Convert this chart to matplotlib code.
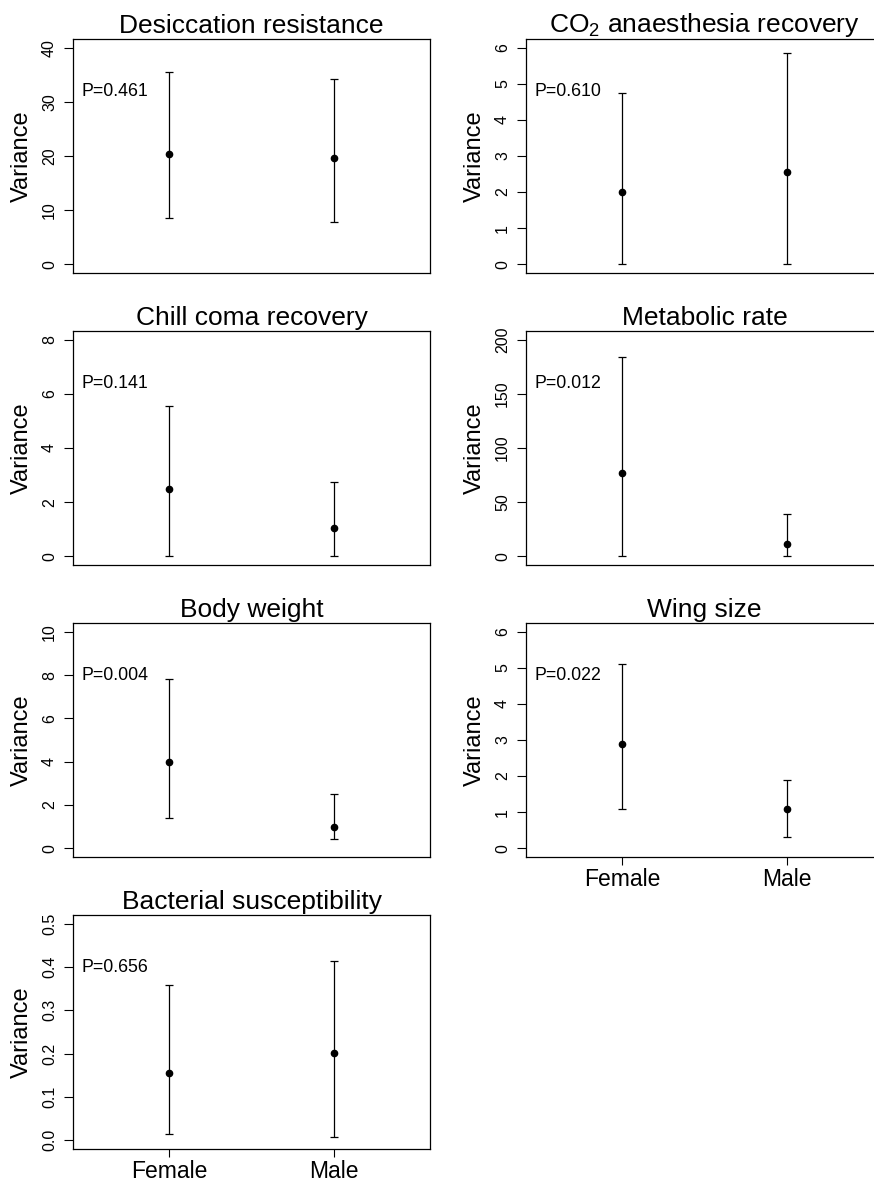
import matplotlib
matplotlib.use('Agg')
import matplotlib.pyplot as plt
from matplotlib.transforms import blended_transform_factory

plt.rcParams['font.family'] = ['Liberation Sans', 'DejaVu Sans']

# panel data
titles = ['Desiccation resistance', 'CO$_\\mathregular{2}$ anaesthesia recovery',
          'Chill coma recovery', 'Metabolic rate', 'Body weight', 'Wing size',
          'Bacterial susceptibility']
p_labels = ['P=0.461', 'P=0.610', 'P=0.141', 'P=0.012', 'P=0.004', 'P=0.022', 'P=0.656']
y_max = [40, 6, 8, 200, 10, 6, 0.5]
y_step = [10, 1, 2, 50, 2, 1, 0.1]
sexes = ['Female', 'Male']

female_var = [20.3, 2.00, 2.49, 76.9, 4.0, 2.90, 0.155]
female_lo = [8.6, 0.0, 0.0, 0.0, 1.4, 1.10, 0.014]
female_hi = [35.5, 4.74, 5.56, 184.0, 7.82, 5.10, 0.358]
male_var = [19.6, 2.57, 1.06, 11.7, 1.0, 1.10, 0.202]
male_lo = [7.8, 0.0, 0.0, 0.0, 0.43, 0.32, 0.008]
male_hi = [34.2, 5.84, 2.73, 39.4, 2.49, 1.89, 0.415]

W, H = 874, 1181
fig = plt.figure(figsize=(W / 100, H / 100), dpi=100)

col_left = [73, 526]
row_top = [39, 331, 623, 915]
ax_w, ax_h = 357, 234

for i in range(7):
    r, c = divmod(i, 2)
    left = col_left[c]
    top = row_top[r]
    ax = fig.add_axes([left / W, 1 - (top + ax_h) / H, ax_w / W, ax_h / H])

    xs = [1, 2]
    vals = [female_var[i], male_var[i]]
    lo = [female_lo[i], male_lo[i]]
    hi = [female_hi[i], male_hi[i]]
    yerr = [[v - l for v, l in zip(vals, lo)], [h - v for v, h in zip(vals, hi)]]
    ax.errorbar(xs, vals, yerr=yerr, fmt='o', color='black', ms=4.5,
                elinewidth=0.9, capsize=3.2, capthick=0.9)

    ymax = y_max[i]
    pad = 0.04 * ymax
    ax.set_ylim(-pad, ymax + pad)
    ax.set_xlim(0.42, 2.58)
    n = int(round(ymax / y_step[i]))
    ticks = [k * y_step[i] for k in range(n + 1)]
    ax.set_yticks(ticks)
    if ymax < 1:
        ax.set_yticklabels(['%.1f' % t for t in ticks])
    else:
        ax.set_yticklabels(['%d' % t for t in ticks])
    for lab in ax.get_yticklabels():
        lab.set_rotation(90)
        lab.set_va('center')
    ax.tick_params(axis='y', length=6.5, width=0.8, labelsize=11.5, pad=5)

    # x axis labels only on the bottom panel of each column
    if i in (5, 6):
        ax.set_xticks(xs)
        ax.set_xticklabels(sexes)
        ax.tick_params(axis='x', length=6, width=0.8, labelsize=16.5, pad=2)
    else:
        ax.set_xticks([])

    for sp in ax.spines.values():
        sp.set_linewidth(0.9)

    ax.set_title(titles[i], fontsize=19, pad=4.3)
    ax.set_ylabel('Variance', fontsize=17, va='center')
    ax.yaxis.set_label_coords(-51 / ax_w, 0.5)

    trans = blended_transform_factory(ax.transAxes, ax.transData)
    ax.text(0.025, 0.8 * ymax, p_labels[i], transform=trans, fontsize=12.8,
            ha='left', va='center')

fig.savefig('out.png', dpi=100)
